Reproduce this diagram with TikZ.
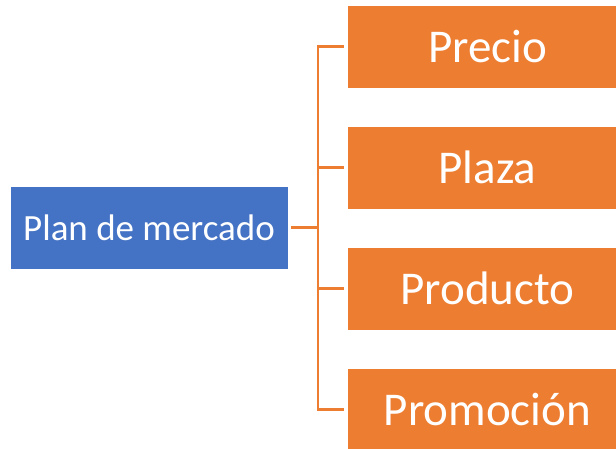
\documentclass[tikz,border=0pt]{standalone}
\usepackage{fontspec}
\setmainfont{Carlito}
\definecolor{blueC}{HTML}{4472C4}
\definecolor{orangeC}{HTML}{ED7D31}
\begin{document}
\begin{tikzpicture}[x=1pt,y=-1pt,
  rootbox/.style={fill=blueC, draw=white, line width=0.6pt, minimum width=278pt, minimum height=83pt, inner sep=0pt, text=white, font=\fontsize{37}{44}\selectfont},
  leaf/.style={fill=orangeC, draw=white, line width=0.6pt, minimum width=281pt, minimum height=83pt, inner sep=0pt, text=white, font=\fontsize{47}{56}\selectfont},
  conn/.style={draw=orangeC, line width=2.6pt, line join=miter}]
\useasboundingbox (0,0) rectangle (616,449);
\node[rootbox] (root) at (149,227.5) {Plan de mercado};
\node[leaf] (l1) at (487.5,46.5) {Precio};
\node[leaf] (l2) at (487.5,167.5) {Plaza};
\node[leaf] (l3) at (487.5,288.5) {Producto};
\node[leaf] (l4) at (487.5,409.5) {Promoción};
\coordinate (j) at (318,227.5);
\draw[conn, shorten <=3pt] (root.east) -- (j);
\draw[conn, shorten <=3pt, shorten >=3pt] (l1.west) -- (j |- l1) -- (j |- l4) -- (l4.west);
\draw[conn, shorten >=3pt] (j |- l2) -- (l2.west);
\draw[conn, shorten >=3pt] (j |- l3) -- (l3.west);
\end{tikzpicture}
\end{document}
